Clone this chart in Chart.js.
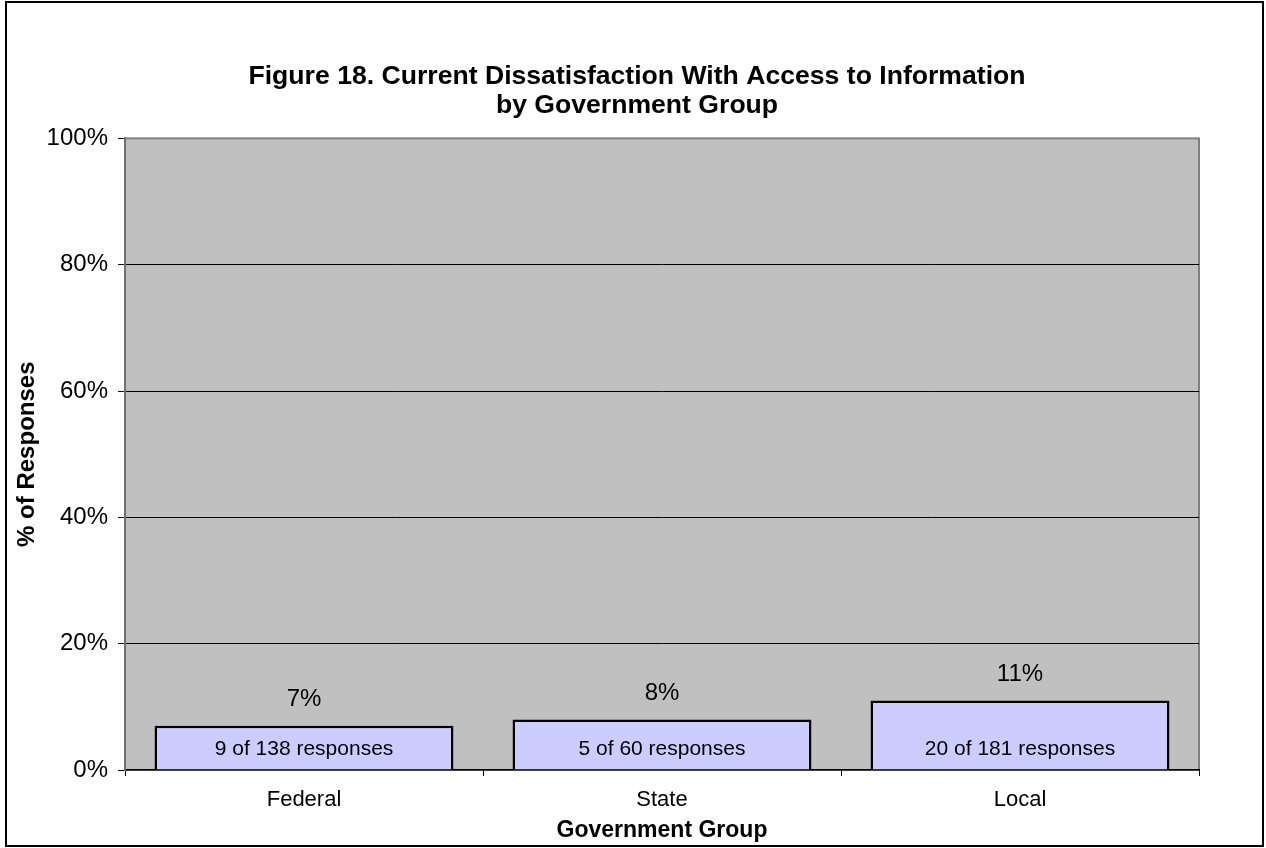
<!DOCTYPE html>
<html>
<head>
<meta charset="utf-8">
<script src="https://cdn.jsdelivr.net/npm/chart.js@4/dist/chart.umd.min.js"></script>
<style>
  html, body { margin: 0; padding: 0; background: #fff; }
  #box { width: 1266px; height: 848px; }
</style>
</head>
<body>
<div id="box"><canvas id="myChart"></canvas></div>
<script>
const categories = ['Federal', 'State', 'Local'];
const percentValues = [7, 8, 11];
const respondedCounts = [9, 5, 20];
const totalCounts = [138, 60, 181];
const yTicks = [0, 20, 40, 60, 80, 100];

const FONT = "'Liberation Sans', Arial, sans-serif";

// grey plot area, outer frame
const backdrop = {
  id: 'backdrop',
  beforeDraw(chart) {
    const { ctx, chartArea: a, width, height } = chart;
    ctx.save();
    ctx.fillStyle = '#fff';
    ctx.fillRect(0, 0, width, height);
    ctx.strokeStyle = '#000';
    ctx.lineWidth = 2;
    ctx.strokeRect(6, 2, width - 9, height - 4);
    ctx.fillStyle = '#c0c0c0';
    ctx.fillRect(a.left, a.top, a.right - a.left, a.bottom - a.top);
    ctx.strokeStyle = '#808080';
    ctx.lineWidth = 2;
    ctx.strokeRect(a.left, a.top, a.right - a.left, a.bottom - a.top);
    ctx.restore();
  }
};

// value labels above bars and counts inside bars
const barLabels = {
  id: 'barLabels',
  afterDatasetsDraw(chart) {
    const { ctx } = chart;
    const meta = chart.getDatasetMeta(0);
    const yScale = chart.scales.y;
    ctx.save();
    ctx.fillStyle = '#000';
    ctx.textAlign = 'center';
    ctx.textBaseline = 'middle';
    ctx.font = '24px ' + FONT;
    meta.data.forEach((bar, i) => {
      ctx.fillText(percentValues[i] + '%', bar.x, bar.y - 26);
    });
    ctx.font = '21px ' + FONT;
    meta.data.forEach((bar, i) => {
      ctx.fillText(respondedCounts[i] + ' of ' + totalCounts[i] + ' responses', bar.x, yScale.bottom - 21);
    });
    ctx.restore();
  }
};

new Chart(document.getElementById('myChart'), {
  type: 'bar',
  data: {
    labels: categories,
    datasets: [{
      data: percentValues,
      backgroundColor: '#ccccff',
      borderColor: '#000',
      borderWidth: 2.5,
      categoryPercentage: 1,
      barPercentage: 0.835
    }]
  },
  options: {
    responsive: true,
    maintainAspectRatio: false,
    animation: false,
    events: [],
    layout: { padding: { top: 63, right: 5, bottom: 0, left: 13 } },
    plugins: {
      legend: { display: false },
      tooltip: { enabled: false },
      title: {
        display: true,
        text: ['Figure 18. Current Dissatisfaction With Access to Information', 'by Government Group'],
        color: '#000',
        font: { family: FONT, size: 26.6, weight: 'bold', lineHeight: 1.06 },
        padding: { top: 0, bottom: 19 }
      }
    },
    scales: {
      x: {
        afterFit: s => { s.height = 78; },
        grid: { offset: true, drawOnChartArea: false, drawTicks: true, tickLength: 6, color: '#000' },
        border: { color: '#000', width: 1.5 },
        ticks: { color: '#000', font: { family: FONT, size: 22 }, padding: 11 },
        title: {
          display: true, text: 'Government Group', color: '#000',
          font: { family: FONT, size: 23, weight: 'bold' },
          padding: { top: 0, bottom: 4 }
        }
      },
      y: {
        min: 0, max: 100,
        afterFit: s => { s.width = 112; },
        afterBuildTicks: s => { s.ticks = yTicks.map(v => ({ value: v })); },
        grid: {
          color: c => (c.tick && (c.tick.value === 0 || c.tick.value === 100)) ? 'rgba(0,0,0,0)' : '#000',
          tickColor: '#000',
          tickLength: 7
        },
        border: { color: '#707070', width: 2 },
        ticks: { color: '#000', font: { family: FONT, size: 24 }, padding: 10, callback: v => v + '%' },
        title: {
          display: true, text: '% of Responses', color: '#000',
          font: { family: FONT, size: 24, weight: 'bold' },
          padding: { top: 0, bottom: 0 }
        }
      },
      // empty right-hand box so the title centres on the page like the original
      spacer: {
        type: 'linear', position: 'right', display: true,
        afterFit: s => { s.width = 62; },
        grid: { display: false },
        border: { display: false },
        ticks: { display: false }
      }
    }
  },
  plugins: [backdrop, barLabels]
});
</script>
</body>
</html>
